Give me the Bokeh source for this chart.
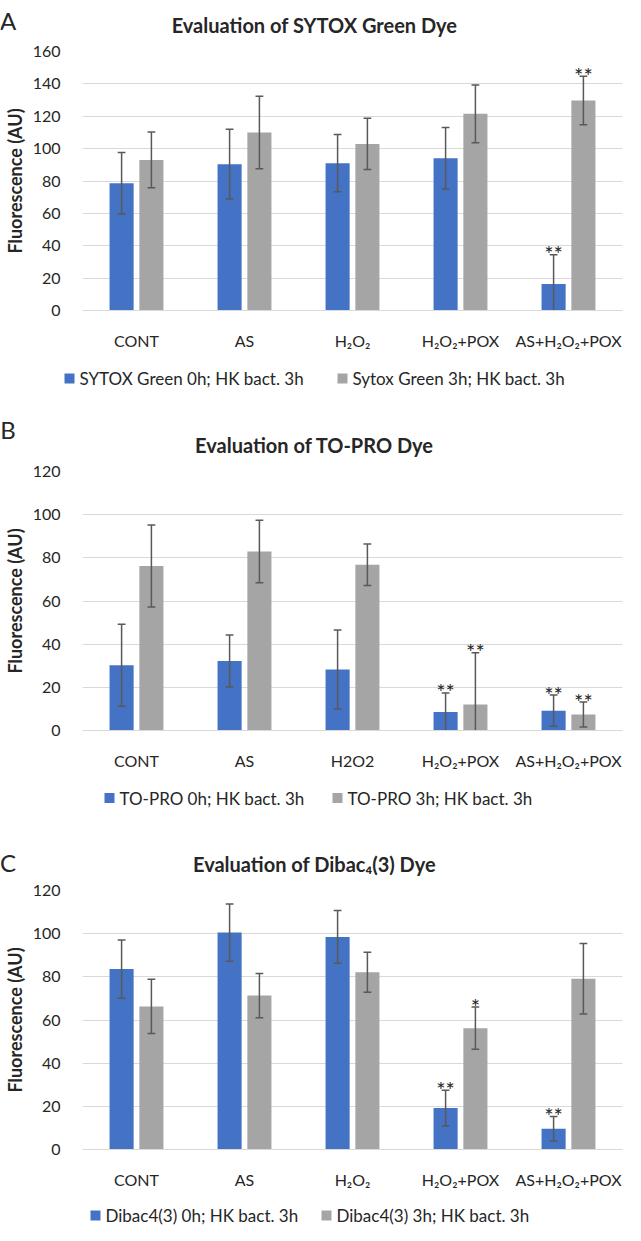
from bokeh.plotting import figure
from bokeh.models import FactorRange, ColumnDataSource, Label, FixedTicker
from bokeh.transform import dodge
from bokeh.layouts import column
from bokeh.core.properties import value
from bokeh.embed import file_html
from bokeh.resources import INLINE

# ---------------- data ----------------
cats_A = ["CONT", "AS", "H₂O₂", "H₂O₂+POX", "AS+H₂O₂+POX"]
cats_B = ["CONT", "AS", "H2O2", "H₂O₂+POX", "AS+H₂O₂+POX"]
cats_C = ["CONT", "AS", "H₂O₂", "H₂O₂+POX", "AS+H₂O₂+POX"]

A_0h = [78.6, 90.4, 91.0, 94.0, 16.4]
A_0h_err = [19.0, 21.5, 17.7, 19.0, 18.0]
A_3h = [93.0, 110.0, 102.9, 121.5, 129.7]
A_3h_err = [17.2, 22.4, 15.8, 17.8, 15.0]
A_0h_sig = ["", "", "", "", "**"]
A_3h_sig = ["", "", "", "", "**"]

B_0h = [30.2, 32.2, 28.3, 8.6, 9.2]
B_0h_err = [19.0, 12.0, 18.3, 8.8, 7.2]
B_3h = [76.2, 82.9, 76.8, 12.0, 7.4]
B_3h_err = [19.0, 14.5, 9.6, 24.0, 5.8]
B_0h_sig = ["", "", "", "**", "**"]
B_3h_sig = ["", "", "", "**", "**"]

C_0h = [83.6, 100.5, 98.5, 19.2, 9.6]
C_0h_err = [13.5, 13.3, 12.2, 8.3, 5.7]
C_3h = [66.3, 71.3, 82.1, 56.2, 79.1]
C_3h_err = [12.6, 10.3, 9.3, 9.8, 16.3]
C_0h_sig = ["", "", "", "**", "**"]
C_3h_sig = ["", "", "", "*", ""]

titles = ["Evaluation of SYTOX Green Dye", "Evaluation of TO-PRO Dye",
          "Evaluation of Dibac₄(3) Dye"]
letters = ["A", "B", "C"]
legend_A = ["SYTOX Green 0h; HK bact. 3h", "Sytox Green 3h; HK bact. 3h"]
legend_B = ["TO-PRO 0h; HK bact. 3h", "TO-PRO 3h; HK bact. 3h"]
legend_C = ["Dibac4(3) 0h; HK bact. 3h", "Dibac4(3) 3h; HK bact. 3h"]
y_ticks_A = [0, 20, 40, 60, 80, 100, 120, 140, 160]
y_ticks_BC = [0, 20, 40, 60, 80, 100, 120]
y_label = "Fluorescence (AU)"

BLUE = "#4472C4"
GRAY = "#A5A5A5"
ERR = "#595959"
GRID = "#D9D9D9"
TXT = "#262626"
FONT = "Lato"
W = 625

OFF = 0.138
BW = 0.223
CAP = 0.036


def canvas(h):
    f = figure(width=W, height=h, x_range=(0, W), y_range=(0, h),
               x_axis_type=None, y_axis_type=None, output_backend="svg",
               toolbar_location=None, title=None, min_border=0,
               min_border_left=0, min_border_right=0, min_border_top=0,
               min_border_bottom=0, frame_align=False)
    f.outline_line_color = None
    f.grid.visible = False
    return f


def header(h, letter, letter_base, title, title_base):
    f = canvas(h)
    f.add_layout(Label(x=314, y=h - title_base, text=title, text_align="center",
                       text_baseline="alphabetic", text_font=FONT,
                       text_font_style="bold", text_font_size="20px",
                       text_color=TXT))
    f.add_layout(Label(x=7.5, y=h - letter_base, text=letter, text_align="center",
                       text_baseline="alphabetic", text_font=FONT,
                       text_font_size="24px", text_color=TXT))
    return f


def chart(cats, series, ticks, left):
    p = figure(width=W, height=313, x_range=FactorRange(*cats),
               y_range=(0, ticks[-1]), output_backend="svg",
               toolbar_location=None, title=None,
               min_border_left=left, min_border_right=3,
               min_border_top=12, min_border_bottom=38, frame_align=False)
    p.outline_line_color = None
    p.xgrid.grid_line_color = None
    p.ygrid.grid_line_color = GRID
    p.ygrid.grid_line_width = 1
    p.yaxis.ticker = FixedTicker(ticks=ticks)
    p.yaxis.axis_line_color = None
    p.yaxis.major_tick_line_color = None
    p.yaxis.minor_tick_line_color = None
    p.yaxis.major_label_standoff = 16
    p.yaxis.axis_label = y_label
    p.yaxis.axis_label_text_font = FONT
    p.yaxis.axis_label_text_font_style = "bold"
    p.yaxis.axis_label_text_font_size = "18px"
    p.yaxis.axis_label_text_color = TXT
    p.yaxis.axis_label_standoff = 4
    p.xaxis.axis_line_color = GRID
    p.xaxis.major_tick_line_color = None
    p.xaxis.minor_tick_line_color = None
    p.xaxis.major_label_standoff = 14
    for ax in (p.xaxis, p.yaxis):
        ax.major_label_text_font = FONT
        ax.major_label_text_font_size = "16px"
        ax.major_label_text_color = TXT

    for vals, errs, sig, color, off in series:
        upper = [v + e for v, e in zip(vals, errs)]
        lower = [max(v - e, 0) for v, e in zip(vals, errs)]
        src = ColumnDataSource(dict(cat=cats, val=vals, upper=upper, lower=lower, sig=sig))
        p.vbar(x=dodge("cat", off, range=p.x_range), top="val", width=BW,
               source=src, fill_color=color, line_color=None)
        p.segment(x0=dodge("cat", off, range=p.x_range), y0="lower",
                  x1=dodge("cat", off, range=p.x_range), y1="upper",
                  source=src, line_color=ERR, line_width=1.5)
        p.segment(x0=dodge("cat", off - CAP, range=p.x_range), y0="upper",
                  x1=dodge("cat", off + CAP, range=p.x_range), y1="upper",
                  source=src, line_color=ERR, line_width=1.5)
        lc = [c for c, v, e in zip(cats, vals, errs) if v - e > 0.3]
        ll = [v - e for v, e in zip(vals, errs) if v - e > 0.3]
        lsrc = ColumnDataSource(dict(cat=lc, low=ll))
        p.segment(x0=dodge("cat", off - CAP, range=p.x_range), y0="low",
                  x1=dodge("cat", off + CAP, range=p.x_range), y1="low",
                  source=lsrc, line_color=ERR, line_width=1.5)
        p.text(x=dodge("cat", off, range=p.x_range), y="upper", text="sig",
               source=src, text_align="center", text_baseline="alphabetic",
               y_offset=-1, text_font=value(FONT), text_font_size="22px",
               text_color=TXT)
    return p


def footer(h, labels, xs, yc):
    f = canvas(h)
    src = ColumnDataSource(dict(sx=[x + 5 for x in xs], tx=[x + 15 for x in xs],
                                y=[yc] * len(xs), color=[BLUE, GRAY], label=labels))
    f.rect(x="sx", y="y", width=10, height=10, fill_color="color",
           line_color=None, source=src)
    f.text(x="tx", y="y", text="label", text_baseline="middle", text_align="left",
           text_font=value(FONT), text_font_size="17px", text_color=TXT, source=src)
    return f


panels = []
panels.append(header(39, letters[0], 19.7, titles[0], 24.7))
panels.append(chart(cats_A, [(A_0h, A_0h_err, A_0h_sig, BLUE, -OFF),
                             (A_3h, A_3h_err, A_3h_sig, GRAY, OFF)], y_ticks_A, 70))
panels.append(footer(43, legend_A, [64, 337], 17))

panels.append(header(64, letters[1], 34.3, titles[1], 49.2))
panels.append(chart(cats_B, [(B_0h, B_0h_err, B_0h_sig, BLUE, -OFF),
                             (B_3h, B_3h_err, B_3h_sig, GRAY, OFF)], y_ticks_BC, 73))
panels.append(footer(52, legend_B, [104, 332], 26.5))

panels.append(header(54, letters[2], 37.7, titles[2], 39.6))
panels.append(chart(cats_C, [(C_0h, C_0h_err, C_0h_sig, BLUE, -OFF),
                             (C_3h, C_3h_err, C_3h_sig, GRAY, OFF)], y_ticks_BC, 70))
panels.append(footer(34, legend_C, [90, 321], 10))

layout = column(*panels)
open("out.html", "w").write(file_html(layout, INLINE))
